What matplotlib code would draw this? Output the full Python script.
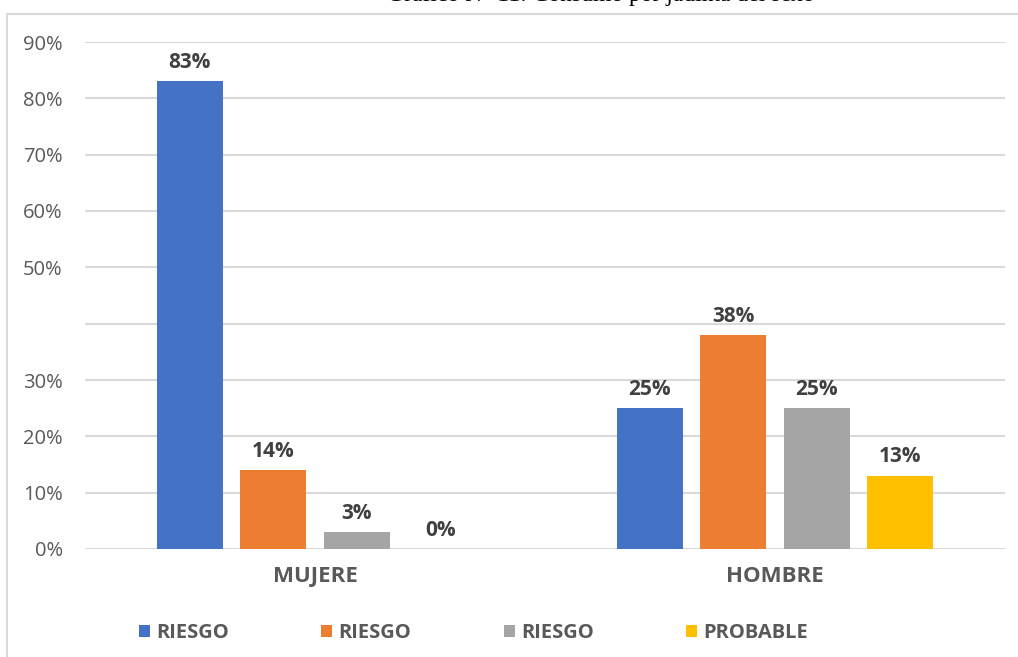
import numpy as np
import matplotlib.pyplot as plt
from matplotlib.patches import Rectangle

# Datos
grupos = ["MUJERE", "HOMBRE"]
series = ["RIESGO", "RIESGO", "RIESGO", "PROBABLE"]
valores = [
    [0.83, 0.25],
    [0.14, 0.38],
    [0.03, 0.25],
    [0.00, 0.13],
]
colores = ["#4472C4", "#ED7D31", "#A5A5A5", "#FFC000"]
ticks_y = [0.0, 0.1, 0.2, 0.3, 0.4, 0.5, 0.6, 0.7, 0.8, 0.9]
etiquetas_y = ["0%", "10%", "20%", "30%", "", "50%", "60%", "70%", "80%", "90%"]

fuente_negrita = "Open Sans"

fig = plt.figure(figsize=(10.18, 6.57), dpi=100)

# Marco del grafico
fig.patches.append(Rectangle((7 / 1018, -0.1), 1.2, 1 - 14 / 657 + 0.1,
                             transform=fig.transFigure, facecolor="white",
                             edgecolor="#d9d9d9", linewidth=1.5, zorder=-5))

# Titulo (cortado en la parte superior)
fig.text(0.59, 1 - 1.5 / 657, "Gráfico N° 11: Consumo por jadinta del sexo",
         ha="center", va="baseline", fontsize=17, family="Liberation Serif",
         color="black")

ax = fig.add_axes([85 / 1018, 1 - 549 / 657, 920 / 1018, (549 - 42) / 657])
ax.set_facecolor("none")
ax.set_zorder(2)

x = np.arange(len(grupos))
ancho = 0.1435
paso = 0.1815
for i, (vals, col, nombre) in enumerate(zip(valores, colores, series)):
    pos = x + (i - 1.5) * paso
    barras = ax.bar(pos, vals, width=ancho, color=col, label=nombre, zorder=3)
    for b, v in zip(barras, vals):
        ax.annotate(f"{v:.0%}", (b.get_x() + b.get_width() / 2, v),
                    xytext=(0, 6), textcoords="offset points",
                    ha="center", va="bottom", fontsize=15, fontweight="bold",
                    color="#404040", family=fuente_negrita)

ax.set_xlim(-0.5, 1.5)
ax.set_ylim(0, 0.9)
ax.set_yticks(ticks_y)
ax.set_yticklabels(etiquetas_y, fontsize=14.5, color="#595959", family="Open Sans")
ax.set_xticks(x)
ax.set_xticklabels(grupos, fontsize=16, fontweight="bold", color="#595959",
                   family=fuente_negrita)
ax.tick_params(axis="both", length=0)
ax.tick_params(axis="y", pad=16)
ax.tick_params(axis="x", pad=12)
ax.grid(axis="y", color="#d9d9d9", linewidth=1.5, zorder=0)
for s in ax.spines.values():
    s.set_visible(False)

leg = fig.legend(loc="center", bbox_to_anchor=(0.465, 1 - 633 / 657), ncol=4,
                 frameon=False, handlelength=0.55, handleheight=0.55,
                 handletextpad=0.3, columnspacing=4.6,
                 prop={"family": fuente_negrita, "weight": "bold", "size": 14.5})
for t in leg.get_texts():
    t.set_color("#595959")

fig.savefig("out.png", dpi=100)
